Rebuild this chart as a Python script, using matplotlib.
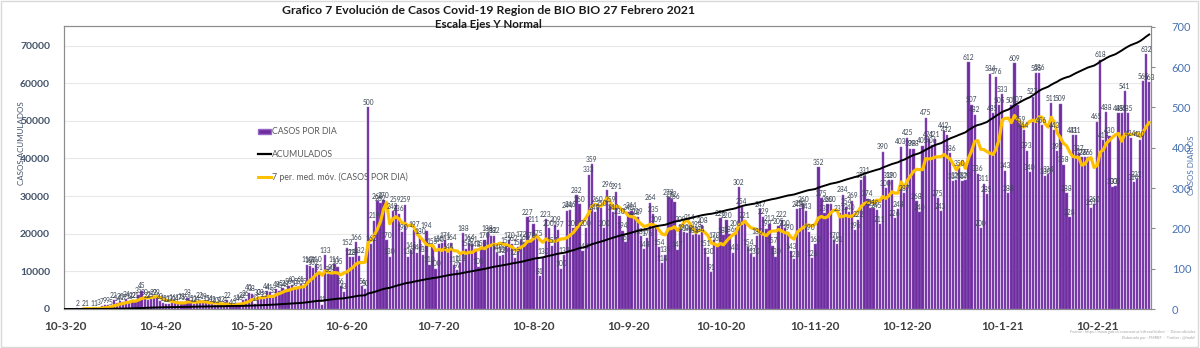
import matplotlib
matplotlib.use('Agg')
import matplotlib.pyplot as plt
from matplotlib.patches import Rectangle, Patch
from matplotlib.lines import Line2D
import numpy as np
import pandas as pd

plt.rcParams['font.family'] = ['Lato', 'DejaVu Sans']

# ---------------- data ----------------
start_date = '2020-03-10'
casos_10mar_9abr = [0, 0, 0, 0, 2, 0, 2, 1, 0, 1, 1, 3, 7, 9, 9, 5, 22, 14, 20, 17, 24, 18,
                    22, 21, 35, 45, 30, 22, 25, 29, 29]
casos_10abr_9may = [20, 15, 12, 13, 16, 14, 17, 18, 16, 28, 15, 12, 14, 22, 19, 15, 14, 12, 10, 9, 12,
                    8, 22, 4, 6, 14, 16, 22, 26, 40]
casos_10may_9jun = [38, 13, 30, 28, 25, 44, 41, 35, 49, 45, 52, 48, 56, 60, 50, 55, 61, 55, 110, 107, 102, 110,
                    91, 11, 133, 86, 90, 111, 105, 56, 43]
casos_10jun_9jul = [152, 128, 129, 166, 132, 56, 50, 500, 162, 219, 268, 262, 270, 170, 130, 242, 259, 236, 190, 259, 130,
                    146, 197, 140, 180, 135, 194, 110, 155, 100]
casos_10jul_9ago = [160, 163, 171, 144, 164, 110, 97, 113, 188, 150, 164, 161, 148, 105, 150, 170, 188, 182, 182, 140, 132, 135,
                    157, 170, 162, 127, 154, 172, 165, 227, 170]
casos_10ago_9sep = [211, 175, 81, 130, 223, 200, 157, 209, 197, 100, 133, 244, 246, 200, 282, 260, 144, 200, 333, 359, 240, 260,
                    250, 200, 296, 259, 240, 291, 230, 194, 165]
casos_10sep_9oct = [240, 244, 228, 229, 181, 148, 176, 264, 235, 209, 154, 114, 135, 278, 272, 266, 147, 209, 190, 188, 214,
                    183, 198, 184, 208, 151, 130, 91, 170, 162]
casos_10oct_9nov = [226, 183, 220, 186, 140, 200, 302, 254, 221, 154, 137, 130, 180, 247, 229, 199, 212, 157, 130, 205, 222, 200,
                    190, 143, 123, 248, 250, 260, 243, 190, 126]
casos_10nov_9dic = [160, 352, 275, 237, 260, 260, 170, 161, 237, 284, 254, 240, 269, 196, 222, 319, 331, 274, 251, 250, 245,
                    211, 390, 300, 319, 320, 226, 248, 403, 287]
casos_10dic_9ene = [425, 398, 398, 268, 240, 405, 475, 421, 406, 421, 275, 243, 442, 432, 386, 317, 320, 350, 317, 320, 612, 507,
                    482, 336, 200, 311, 285, 584, 485, 576, 505]
casos_10ene_9feb = [533, 343, 288, 505, 609, 507, 459, 444, 393, 340, 527, 585, 586, 456, 330, 334, 511, 443, 392, 509, 358, 288,
                    228, 431, 431, 387, 376, 376, 376, 251, 260]
casos_10feb_27feb = [465, 618, 418, 488, 430, 303, 305, 485, 485, 541, 485, 424, 314, 322, 420, 565, 632, 563]

casos_por_dia = (casos_10mar_9abr + casos_10abr_9may + casos_10may_9jun + casos_10jun_9jul +
                 casos_10jul_9ago + casos_10ago_9sep + casos_10sep_9oct + casos_10oct_9nov +
                 casos_10nov_9dic + casos_10dic_9ene + casos_10ene_9feb + casos_10feb_27feb)

tick_fechas = ['2020-03-10', '2020-04-10', '2020-05-10', '2020-06-10', '2020-07-10', '2020-08-10',
               '2020-09-10', '2020-10-10', '2020-11-10', '2020-12-10', '2021-01-10', '2021-02-10']
tick_labels = ['10-3-20', '10-4-20', '10-5-20', '10-6-20', '10-7-20', '10-8-20',
               '10-9-20', '10-10-20', '10-11-20', '10-12-20', '10-1-21', '10-2-21']
left_ticks = [0, 10000, 20000, 30000, 40000, 50000, 60000, 70000]
right_ticks = [0, 100, 200, 300, 400, 500, 600, 700]

serie_labels = ['CASOS POR DIA', 'ACUMULADOS', '7 per. med. móv. (CASOS POR DIA)']
titulo = 'Grafico 7 Evolución de Casos Covid-19 Region de BIO BIO 27 Febrero 2021'
subtitulo = 'Escala Ejes Y Normal'

fechas = pd.date_range(start_date, periods=len(casos_por_dia), freq='D')
acumulados = np.cumsum(casos_por_dia)
media_movil = pd.Series(casos_por_dia, index=fechas).rolling(7).mean()

# ---------------- figure ----------------
fig = plt.figure(figsize=(12, 3.48), dpi=100)
ax = fig.add_axes([64 / 1200, 1 - 309 / 348, (1151 - 64) / 1200, (309 - 26) / 348])

spine_c = '#8C8C8C'
purple = '#6E2C9E'
purple_edge = '#9868C6'

# base axes: left scale + grid
ax.set_ylim(0, 75200)
ax.set_yticks(left_ticks)
ax.set_yticklabels([str(t) for t in left_ticks], fontsize=7.5, fontweight='bold', color='#44546A')
ax.tick_params(axis='y', length=0, pad=10)
ax.grid(axis='y', color='#E8E8E8', linewidth=0.8)
ax.set_axisbelow(True)
ax.set_xlim(fechas[0] - pd.Timedelta(hours=8), fechas[-1] + pd.Timedelta(hours=14))
ax.set_xticks(pd.to_datetime(tick_fechas))
ax.set_xticklabels(tick_labels, fontsize=8.5, fontweight='bold', color='#404040')
ax.tick_params(axis='x', length=0, pad=9)
for s in ax.spines.values():
    s.set_color(spine_c)
    s.set_linewidth(0.8)

# bars axes (right scale)
axb = ax.twinx()
bars = axb.bar(fechas, casos_por_dia, width=0.74, color=purple, edgecolor=purple_edge, linewidth=0.35)
axb.plot(media_movil.index, media_movil.values, color='#FFC000', linewidth=2.3, solid_capstyle='round')
axb.bar_label(bars, labels=[str(v) if v > 0 else '' for v in casos_por_dia],
              fontsize=4.8, color='#3C4656', padding=1)
axb.set_ylim(0, 702)
axb.set_yticks(right_ticks)
axb.set_yticklabels([str(t) for t in right_ticks], fontsize=8, color='#4A72B0')
axb.tick_params(axis='y', length=3, pad=12, color=spine_c)
for s in axb.spines.values():
    s.set_color(spine_c)
    s.set_linewidth(0.8)

# cumulative axes (same scale as left)
axc = ax.twinx()
axc.plot(fechas, acumulados, color='black', linewidth=1.4)
axc.set_ylim(ax.get_ylim())
axc.set_yticks([])
for s in axc.spines.values():
    s.set_visible(False)

# axis titles
fig.text(21 / 1200, 1 - 143 / 348, 'CASOS ACUMULADOS', rotation=90, ha='center', va='center',
         fontsize=5.8, color='#44546A')
fig.text(1191 / 1200, 1 - 165 / 348, 'CASOS DIARIOS', rotation=90, ha='center', va='center',
         fontsize=5.8, color='#4A72B0')

# legend
handles = [Patch(facecolor=purple, edgecolor=purple_edge),
           Line2D([0], [0], color='black', linewidth=1.6),
           Line2D([0], [0], color='#FFC000', linewidth=2.2)]
axc.legend(handles, serie_labels, loc='upper left', bbox_to_anchor=(254 / 1200, 1 - 123 / 348),
           bbox_transform=fig.transFigure, frameon=False, fontsize=6.3, labelspacing=1.55,
           handlelength=1.4, handleheight=0.6, handletextpad=0.1, borderpad=0, labelcolor='#595959')

# titles
fig.text(488 / 1200, 1 - 10 / 348, titulo, ha='center', va='center', fontsize=8.8,
         fontweight='bold', color='#1A1A1A')
fig.text(488 / 1200, 1 - 25 / 348, subtitulo, ha='center', va='center', fontsize=8.3,
         fontweight='bold', color='#1A1A1A')

# source note
fig.text(1195 / 1200, 1 - 332 / 348, 'Fuente : https://www.gob.cl/coronavirus/cifrasoficiales/  ·  Datos oficiales',
         ha='right', va='center', fontsize=2.8, color='#A6A6A6')
fig.text(1195 / 1200, 1 - 338 / 348, 'Elaborado por : FMRBF  ·  Twitter : @fmrbf',
         ha='right', va='center', fontsize=2.8, color='#A6A6A6')

# outer chart border
fig.patches.append(Rectangle((0.001, 0.003), 0.997, 0.995, transform=fig.transFigure,
                             fill=False, edgecolor='#D9D9D9', linewidth=1.0))

fig.savefig('out.png', dpi=100, facecolor='white')
